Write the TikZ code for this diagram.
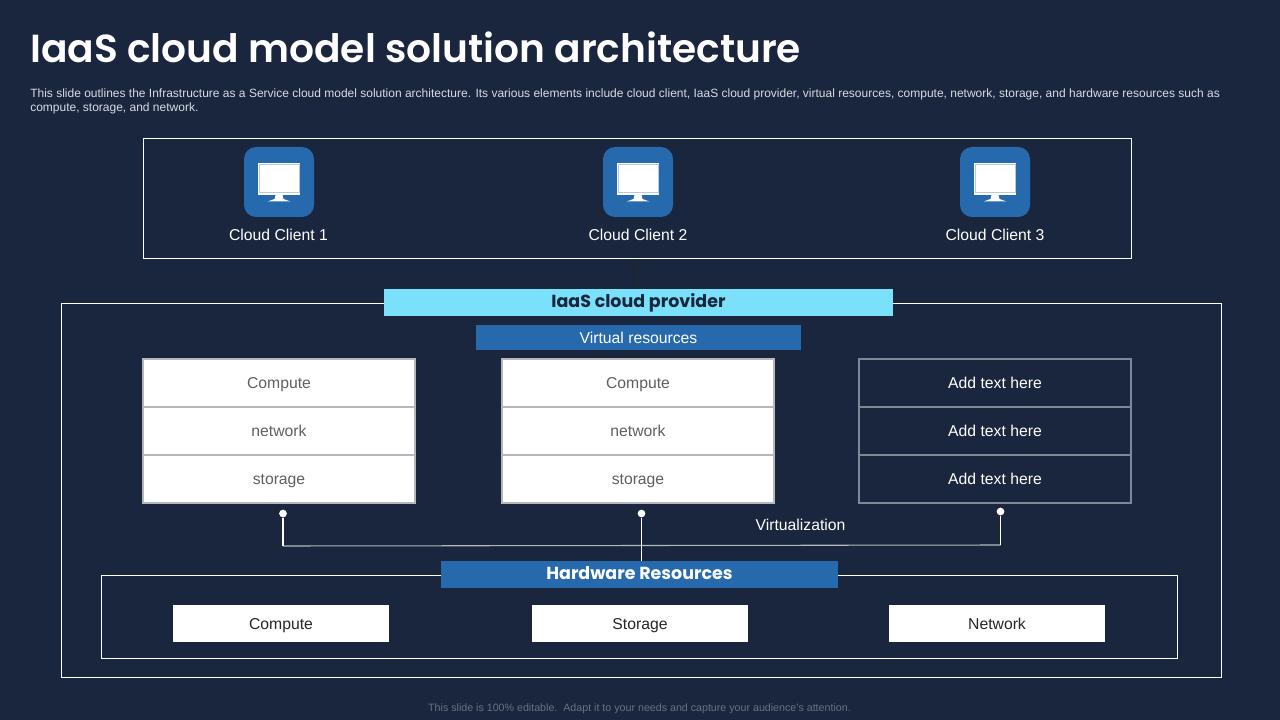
\documentclass[tikz,border=0pt]{standalone}
\usepackage{fontspec}
\setmainfont{Liberation Sans}
\newfontfamily\headfont{Poppins}[UprightFont=* SemiBold,BoldFont=* Bold]
\definecolor{bg}{HTML}{19263D}
\definecolor{midblue}{HTML}{2769AD}
\definecolor{sky}{HTML}{7BE0F9}
\definecolor{greytext}{HTML}{5F5F5F}
\definecolor{rowline}{HTML}{B4B8BE}
\definecolor{darkrow}{HTML}{7F8896}
\definecolor{footgrey}{HTML}{6B7280}
\definecolor{subtext}{HTML}{D9DCE1}
\definecolor{screenline}{HTML}{B5CADF}
\definecolor{faintline}{HTML}{252731}
\tikzset{
  x=0.75pt,y=-0.75pt,
  frame/.style={draw=white,line width=0.75pt,fill=none},
  box/.style={anchor=center,inner sep=0pt,outer sep=0pt,minimum width=#1},
  iconbg/.style={box=70*0.75pt,minimum height=70*0.75pt,fill=midblue,rounded corners=9pt},
  clientlabel/.style={text=white,font=\fontsize{11.8pt}{14pt}\selectfont,inner sep=0pt},
  bodytext/.style={font=\fontsize{11.8pt}{14pt}\selectfont,text height=8.4pt,text depth=0pt},
  headtext/.style={font=\headfont\bfseries\fontsize{13.1pt}{14pt}\selectfont,text height=8pt,text depth=0pt},
  whiterow/.style={box=272*0.75pt,minimum height=48*0.75pt,fill=white,draw=rowline,line width=0.8pt,text=greytext,bodytext},
  darkrowbox/.style={box=272*0.75pt,minimum height=48*0.75pt,draw=darkrow,line width=1pt,text=white,bodytext},
  hwbox/.style={box=216*0.75pt,minimum height=37*0.75pt,fill=white,text=black!85,bodytext},
  dot/.style={circle,fill=white,inner sep=0pt,minimum size=5.8pt},
  wire/.style={draw=rowline,line width=0.8pt},
  wirew/.style={draw=white,line width=0.8pt},
}
\newcommand{\monitor}[1]{%
  \fill[white] ([shift={(-21,-19)}]#1.center) rectangle ([shift={(21,13)}]#1.center);
  \draw[screenline,line width=0.35pt] ([shift={(-20,-17.5)}]#1.center) rectangle ([shift={(20,10)}]#1.center);
  \fill[white] ([shift={(-3.5,13)}]#1.center) -- ([shift={(3.5,13)}]#1.center) -- ([shift={(4.5,17)}]#1.center) -- ([shift={(11.5,19.5)}]#1.center) -- ([shift={(-11.5,19.5)}]#1.center) -- ([shift={(-4.5,17)}]#1.center) -- cycle;
}
\begin{document}
\begin{tikzpicture}
\useasboundingbox (0,0) rectangle (1280,720);
\fill[bg] (0,0) rectangle (1280,720);

\node[anchor=base west,inner sep=0pt,text=white,font=\headfont\fontsize{29.35pt}{34pt}\selectfont] (title) at (30,62.5) {IaaS cloud model solution architecture};
\node[anchor=north west,inner sep=0pt,text=subtext,align=left,font=\fontsize{9pt}{10.5pt}\selectfont] (sub) at (30,88.5) {This slide outlines the Infrastructure as a Service cloud model solution architecture. Its various elements include cloud client, IaaS cloud provider, virtual resources, compute, network, storage, and hardware resources such as\\compute, storage, and network.};

% Clients
\node[frame,box=988.5*0.75pt,minimum height=120.5*0.75pt] (clients) at (637.5,198.5) {};
\node[iconbg] (i1) at (279,182) {};
\node[iconbg] (i2) at (638,182) {};
\node[iconbg] (i3) at (995,182) {};
\monitor{i1}\monitor{i2}\monitor{i3}
\node[clientlabel] (c1) at (278.5,235) {Cloud Client 1};
\node[clientlabel] (c2) at (638,235) {Cloud Client 2};
\node[clientlabel] (c3) at (995,235) {Cloud Client 3};

% Provider
\node[frame,box=1160.5*0.75pt,minimum height=374.5*0.75pt] (outer) at (641.5,490.5) {};
\node[box=509*0.75pt,minimum height=27*0.75pt,fill=sky,text=bg,headtext] (prov) at (638.5,302.5) {IaaS cloud provider};
\draw[draw=faintline,line width=1pt] (clients.south -| prov.north) -- (prov.north);
\node[box=325*0.75pt,minimum height=25*0.75pt,fill=midblue,text=white,bodytext] (virt) at (638.5,337.5) {Virtual resources};

% Resource columns
\node[whiterow] (a1) at (279,383) {Compute};
\node[whiterow] (a2) at (279,431) {network};
\node[whiterow] (a3) at (279,479) {storage};
\node[whiterow] (b1) at (638,383) {Compute};
\node[whiterow] (b2) at (638,431) {network};
\node[whiterow] (b3) at (638,479) {storage};
\node[darkrowbox] (d1) at (995,383) {Add text here};
\node[darkrowbox] (d2) at (995,431) {Add text here};
\node[darkrowbox] (d3) at (995,479) {Add text here};

% Hardware
\node[frame,box=1076*0.75pt,minimum height=83.5*0.75pt] (hw) at (639.5,617) {};
\node[box=397*0.75pt,minimum height=27*0.75pt,fill=midblue,text=white,headtext] (hwt) at (639.5,574.5) {Hardware Resources};
\node[hwbox] (h1) at (281,623.5) {Compute};
\node[hwbox] (h2) at (640,623.5) {Storage};
\node[hwbox] (h3) at (997,623.5) {Network};

% Virtualization connectors
\node[dot] (p1) at (283,513.5) {};
\node[dot] (p2) at (641.5,513.5) {};
\node[dot] (p3) at (1000.5,511.5) {};
\coordinate (j1) at (283,546);
\coordinate (j2) at (641.5,545.5);
\coordinate (j3) at (1000.5,545);
\draw[wire] (j1) -- (j2) -- (j3);
\draw[wirew] (p1) -- (j1);
\draw[wirew] (p3) -- (j3);
\draw[wirew] (p2) -- (p2 |- hwt.north);
\node[inner sep=0pt,text=white,font=\fontsize{11.8pt}{14pt}\selectfont] (virtl) at (800.5,525) {Virtualization};

\node[inner sep=0pt,text=footgrey,font=\fontsize{8pt}{10pt}\selectfont] (foot) at (639.5,709) {This slide is 100\% editable.\ \ Adapt it to your needs and capture your audience's attention.};
\end{tikzpicture}
\end{document}
